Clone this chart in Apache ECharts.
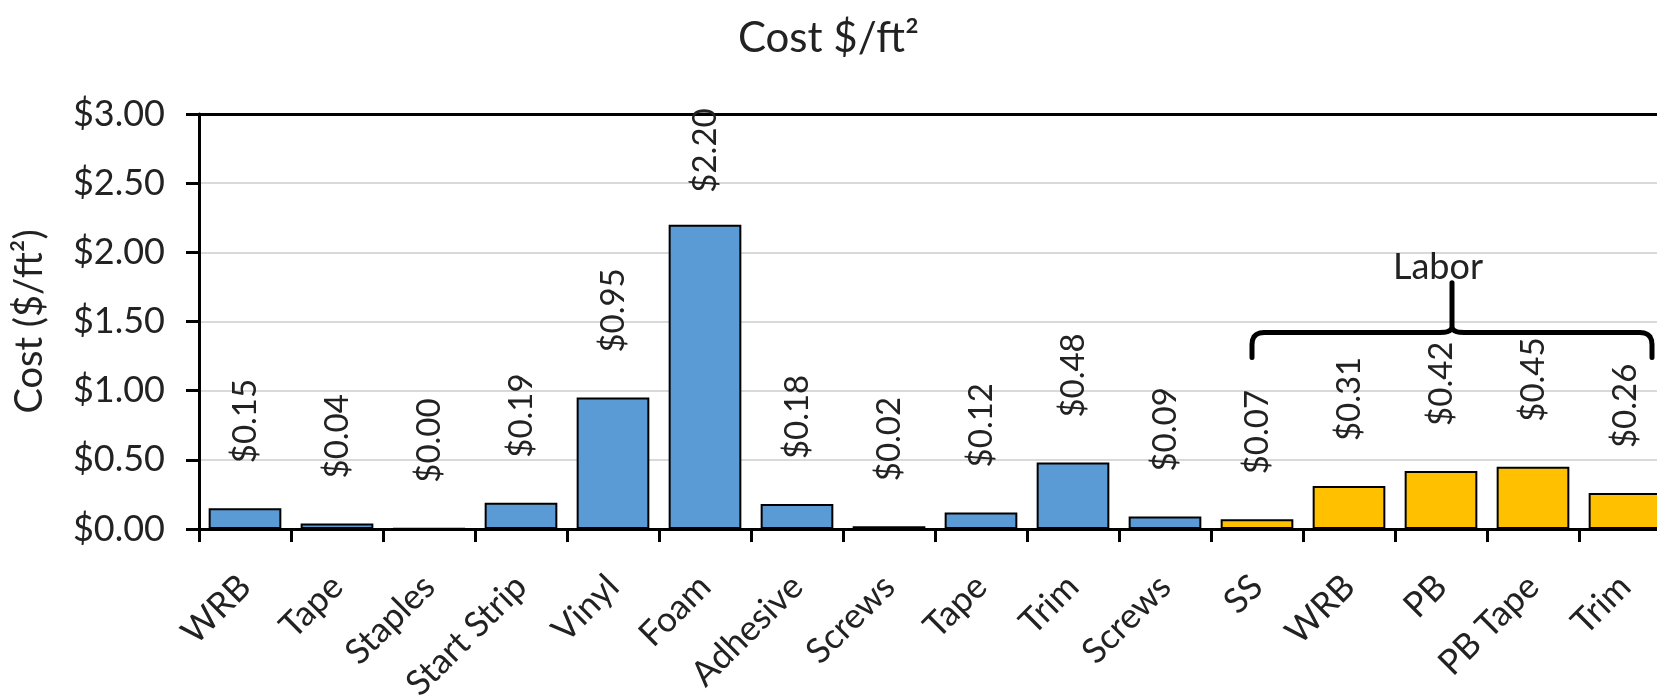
<!DOCTYPE html>
<html>
<head>
<meta charset="utf-8">
<script src="https://cdn.jsdelivr.net/npm/echarts@6/dist/echarts.min.js"></script>
<style>
  html, body { margin: 0; padding: 0; background: #fff; }
  #chart { width: 1657px; height: 700px; }
</style>
</head>
<body>
<div id="chart"></div>
<script>
// categories and cost per square foot
const categories = ['WRB', 'Tape', 'Staples', 'Start Strip', 'Vinyl', 'Foam', 'Adhesive', 'Screws',
  'Tape', 'Trim', 'Screws', 'SS', 'WRB', 'PB', 'PB Tape', 'Trim']
const costs = [0.15, 0.04, 0.004, 0.19, 0.95, 2.20, 0.18, 0.02, 0.12, 0.48, 0.09, 0.07, 0.31, 0.42, 0.45, 0.26]
const groups = ['M', 'M', 'M', 'M', 'M', 'M', 'M', 'M', 'M', 'M', 'M', 'L', 'L', 'L', 'L', 'L']
const yTicks = [0, 0.5, 1, 1.5, 2, 2.5, 3]

const groupColor = { M: '#5B9BD5', L: '#FFC000' }
const txt = '#222'
const font = 'Lato'

const money = v => '$' + Number(v).toFixed(2)

const barData = costs.map((v, i) => ({
  value: v,
  itemStyle: { color: groupColor[groups[i]] },
  // label pushed down where it would run past the plot top
  label: { distance: v > 2 ? 32 : 45 }
}))

const option = {
  animation: false,
  backgroundColor: '#fff',
  title: {
    text: 'Cost $/ft²',
    left: 'center',
    top: 12,
    textStyle: { fontFamily: font, fontSize: 42, fontWeight: 'normal', color: txt }
  },
  grid: {
    left: 199,
    top: 114,
    right: -14,
    bottom: 171,
    containLabel: false,
    outerBoundsMode: 'none'
  },
  xAxis: [
    {
      type: 'category',
      data: categories,
      axisLine: { lineStyle: { color: '#000', width: 3 } },
      axisTick: { show: true, length: 13, lineStyle: { color: '#000', width: 3 } },
      axisLabel: {
        interval: 0,
        rotate: 45,
        margin: 52,
        fontFamily: font,
        fontSize: 35,
        color: txt
      }
    },
    {
      // top frame line of the plot area
      type: 'category',
      position: 'top',
      data: categories,
      axisLine: { show: true, lineStyle: { color: '#000', width: 3 } },
      axisTick: { show: false },
      axisLabel: { show: false }
    }
  ],
  yAxis: {
    type: 'value',
    min: yTicks[0],
    max: yTicks[yTicks.length - 1],
    interval: 0.5,
    name: 'Cost ($/ft²)',
    nameLocation: 'middle',
    nameGap: 150,
    nameTextStyle: { fontFamily: font, fontSize: 38, color: txt },
    axisLine: { show: true, lineStyle: { color: '#000', width: 3 } },
    axisTick: { show: true, length: 13, lineStyle: { color: '#000', width: 3 } },
    splitLine: { lineStyle: { color: '#D9D9D9', width: 2 } },
    axisLabel: {
      formatter: money,
      margin: 34,
      fontFamily: font,
      fontSize: 36,
      color: txt
    }
  },
  series: [
    {
      type: 'bar',
      barCategoryGap: '21%',
      itemStyle: { borderColor: '#000', borderWidth: 2 },
      label: {
        show: true,
        position: 'top',
        rotate: 90,
        align: 'left',
        verticalAlign: 'middle',
        formatter: p => money(p.value),
        fontFamily: font,
        fontSize: 33,
        color: txt
      },
      data: barData
    }
  ]
}

const chart = echarts.init(document.getElementById('chart'))
chart.setOption(option)

// "Labor" bracket over the labour categories
const first = groups.indexOf('L')
const last = groups.lastIndexOf('L')
const px = i => chart.convertToPixel({ xAxisIndex: 0 }, i)
const py = v => chart.convertToPixel({ yAxisIndex: 0 }, v)

const L = px(first) - 5
const R = px(last) + 27
const A = (L + R) / 2
const yEnd = py(1.24)
const yBar = py(1.42)
const yTop = py(1.78)
const r = 12

function corner (x0, y0, cx, cy, x1, y1) {
  const pts = []
  for (let t = 0; t <= 1.0001; t += 0.2) {
    pts.push([
      (1 - t) * (1 - t) * x0 + 2 * (1 - t) * t * cx + t * t * x1,
      (1 - t) * (1 - t) * y0 + 2 * (1 - t) * t * cy + t * t * y1
    ])
  }
  return pts
}

const bracket = [].concat(
  [[L, yEnd]],
  corner(L, yBar + r, L, yBar, L + r, yBar),
  corner(A - r, yBar, A, yBar, A, yBar - 6),
  [[A, yTop], [A, yBar - 6]],
  corner(A, yBar - 6, A, yBar, A + r, yBar),
  corner(R - r, yBar, R, yBar, R, yBar + r),
  [[R, yEnd]]
)

chart.setOption({
  graphic: [
    {
      type: 'polyline',
      shape: { points: bracket },
      style: { stroke: '#000', lineWidth: 5, fill: null, lineJoin: 'round', lineCap: 'round' },
      z: 100
    },
    {
      type: 'text',
      x: A - 14,
      y: py(1.89),
      style: {
        text: 'Labor',
        font: '36px Lato',
        fill: txt,
        align: 'center',
        verticalAlign: 'middle'
      },
      z: 100
    }
  ]
})
</script>
</body>
</html>
